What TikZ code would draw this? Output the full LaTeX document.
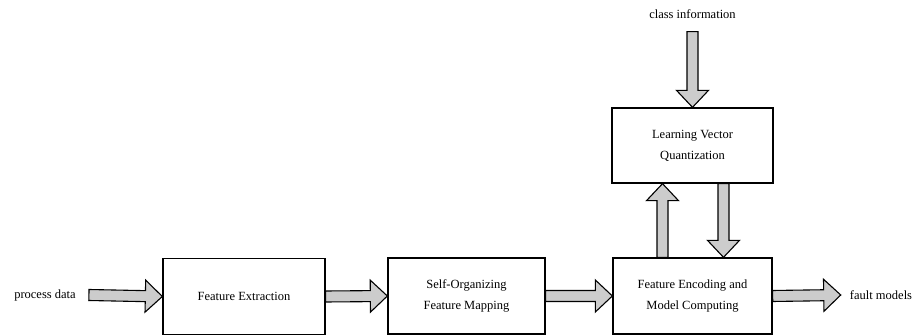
\documentclass[tikz,border=0pt]{standalone}
\usepackage{fontspec}
\setmainfont{Liberation Serif}
\usetikzlibrary{calc}
\tikzset{
  blk/.style={draw=black, line width=1.3pt, fill=white, minimum width=160pt, minimum height=76pt, align=center, inner sep=2pt, font=\fontsize{12.5}{21}\selectfont},
  lbl/.style={inner sep=1pt, font=\fontsize{12.5}{15}\selectfont},
  fat/.style={draw=black, line width=1.1pt, fill=gray!40, line join=miter},
}
\newcommand\fatarrow[2]{%
  \path ($(#2)!17pt!(#1)$) coordinate (hb);
  \draw[fat] ($(#1)!5.5pt!90:(#2)$) -- ($(hb)!5.5pt!-90:(#1)$) -- ($(hb)!16pt!-90:(#1)$) -- (#2)
     -- ($(hb)!16pt!90:(#1)$) -- ($(hb)!5.5pt!90:(#1)$) -- ($(#1)!5.5pt!-90:(#2)$) -- cycle;}
\begin{document}
\begin{tikzpicture}[x=1pt,y=-1pt]
\useasboundingbox (0,0) rectangle (919,336);
\node[blk, minimum width=162pt] (fe) at (244,296.5) {Feature Extraction};
\node[blk, minimum width=157pt] (som) at (466.5,296) {Self-Organizing\\Feature Mapping};
\node[blk, minimum width=159pt] (fem) at (692.5,296) {Feature Encoding and\\Model Computing};
\node[blk, minimum width=161pt, minimum height=75pt] (lvq) at (692.5,145.5) {Learning Vector\\Quantization};
\node[lbl] (pd) at (45,295) {process data};
\node[lbl] (fm) at (881,295) {fault models};
\node[lbl] (ci) at (692.5,14) {class information};
\coordinate (pdS) at ($(pd.east)+(12,0)$);
\coordinate (fmE) at ($(fm.west)+(-8,0)$);
\coordinate (ciS) at ($(ci.south)+(0,12)$);
\fatarrow{pdS}{fe.west}
\fatarrow{fe.east}{som.west}
\fatarrow{som.east}{fem.west}
\fatarrow{fem.east}{fmE}
\fatarrow{ciS}{lvq.north}
\fatarrow{$(fem.north)+(-30,0)$}{$(lvq.south)+(-30,0)$}
\fatarrow{$(lvq.south)+(31,0)$}{$(fem.north)+(31,0)$}
\end{tikzpicture}
\end{document}
